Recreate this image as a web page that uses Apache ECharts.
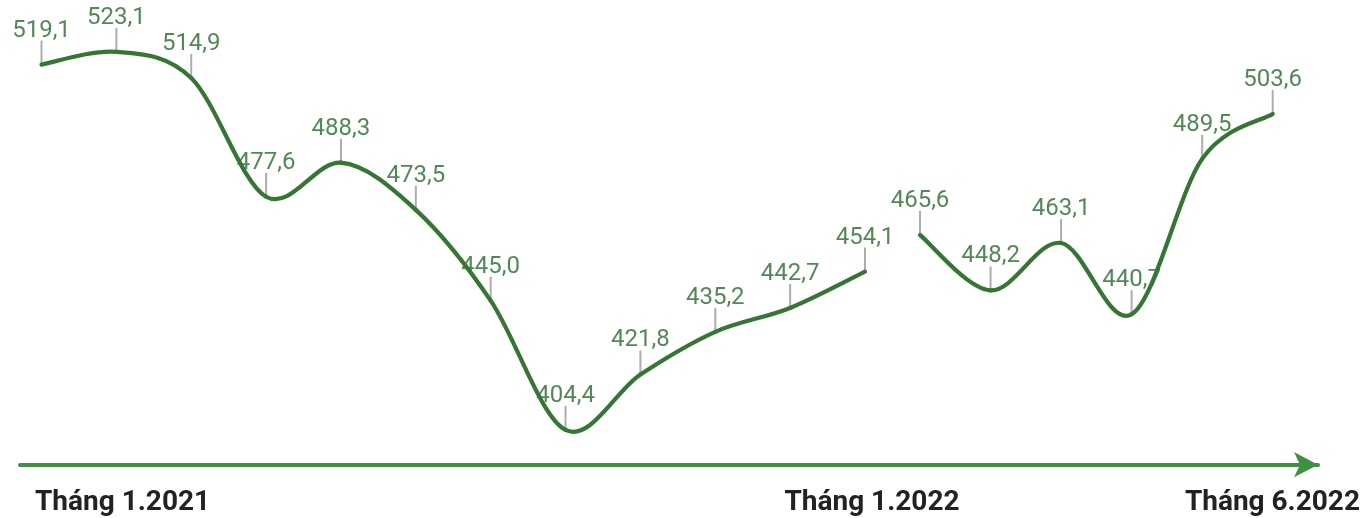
<!DOCTYPE html>
<html>
<head>
<meta charset="utf-8">
<script src="https://cdn.jsdelivr.net/npm/echarts@6/dist/echarts.min.js"></script>
<style>
  html, body { margin: 0; padding: 0; background: #fff; }
  #main { width: 1364px; height: 518px; }
</style>
</head>
<body>
<div id="main"></div>
<script>
// tháng 1 - 12/2021
var months2021 = ['1.2021', '2.2021', '3.2021', '4.2021', '5.2021', '6.2021',
                  '7.2021', '8.2021', '9.2021', '10.2021', '11.2021', '12.2021'];
var values2021 = [519.1, 523.1, 514.9, 477.6, 488.3, 473.5, 445.0, 404.4, 421.8, 435.2, 442.7, 454.1];
// tháng 1 - 6/2022
var months2022 = ['1.2022', '2.2022', '3.2022', '4.2022', '5.2022', '6.2022'];
var values2022 = [465.6, 448.2, 463.1, 440.7, 489.5, 503.6];
// nhãn dưới trục
var bottomLabels = ['Tháng 1.2021', 'Tháng 1.2022', 'Tháng 6.2022'];

var lineColor = '#367634';
var textColor = '#276a2c';
var tickColor = '#999999';
var yMin = 393.7, yMax = 533.1;

function fmt(p) {
    return p.value.toFixed(1).replace('.', ',');
}

// đường cong kiểu Catmull-Rom (giống Excel), vẽ qua api.coord
function curveSeries(idx, values) {
    return {
        type: 'custom',
        xAxisIndex: idx,
        yAxisIndex: idx,
        data: values.map(function (v, i) { return [i, v]; }),
        z: 3,
        silent: true,
        renderItem: function (params, api) {
            if (params.dataIndex !== 0) return;
            var pts = values.map(function (v, i) { return api.coord([i, v]); });
            var n = pts.length;
            var children = [];
            for (var i = 0; i < n - 1; i++) {
                var p0 = pts[Math.max(i - 1, 0)], p1 = pts[i], p2 = pts[i + 1], p3 = pts[Math.min(i + 2, n - 1)];
                children.push({
                    type: 'bezierCurve',
                    shape: {
                        x1: p1[0], y1: p1[1], x2: p2[0], y2: p2[1],
                        cpx1: p1[0] + (p2[0] - p0[0]) / 6, cpy1: p1[1] + (p2[1] - p0[1]) / 6,
                        cpx2: p2[0] - (p3[0] - p1[0]) / 6, cpy2: p2[1] - (p3[1] - p1[1]) / 6
                    },
                    style: { fill: null, stroke: lineColor, lineWidth: 4.2, lineCap: 'round' }
                });
            }
            return { type: 'group', children: children };
        }
    };
}

function tickSeries(idx, data) {
    return {
        type: 'scatter',
        xAxisIndex: idx,
        yAxisIndex: idx,
        data: data,
        symbol: 'rect',
        symbolSize: [2, 24],
        symbolOffset: [0, -12],
        z: 2,
        itemStyle: { color: tickColor },
        label: {
            show: true,
            position: 'top',
            distance: -2,
            formatter: fmt,
            color: textColor,
            fontSize: 24,
            fontFamily: 'Roboto'
        },
        emphasis: { disabled: true }
    };
}

var myChart = echarts.init(document.getElementById('main'));

var option = {
    animation: false,
    backgroundColor: '#fff',
    grid: [
        { left: 41.5, right: 499, top: 20, bottom: 54 },
        { left: 920, right: 91.3, top: 20, bottom: 54 },
        { left: 20, right: 46, top: 20, bottom: 53.3 }
    ],
    xAxis: [
        { gridIndex: 0, type: 'category', data: months2021, boundaryGap: false, show: false },
        { gridIndex: 1, type: 'category', data: months2022, boundaryGap: false, show: false },
        {
            gridIndex: 2, type: 'value', min: 0, max: 1,
            axisLine: {
                show: true, onZero: false,
                symbol: ['none', 'arrow'],
                symbolSize: [19, 24],
                lineStyle: { color: '#3e9140', width: 4 }
            },
            axisTick: { show: false },
            axisLabel: { show: false },
            splitLine: { show: false }
        }
    ],
    yAxis: [
        { gridIndex: 0, type: 'value', min: yMin, max: yMax, show: false },
        { gridIndex: 1, type: 'value', min: yMin, max: yMax, show: false },
        { gridIndex: 2, type: 'value', min: yMin, max: yMax, show: false }
    ],
    graphic: [
        { type: 'text', x: 35, y: 503, style: { text: bottomLabels[0], font: 'bold 28px Roboto', fill: '#222', align: 'left', verticalAlign: 'middle' } },
        { type: 'text', x: 872, y: 503, style: { text: bottomLabels[1], font: 'bold 28px Roboto', fill: '#222', align: 'center', verticalAlign: 'middle' } },
        { type: 'text', x: 1360, y: 503, style: { text: bottomLabels[2], font: 'bold 28px Roboto', fill: '#222', align: 'right', verticalAlign: 'middle' } }
    ],
    series: [
        tickSeries(0, values2021),
        tickSeries(1, values2022),
        curveSeries(0, values2021),
        curveSeries(1, values2022)
    ]
};

myChart.setOption(option);
</script>
</body>
</html>
